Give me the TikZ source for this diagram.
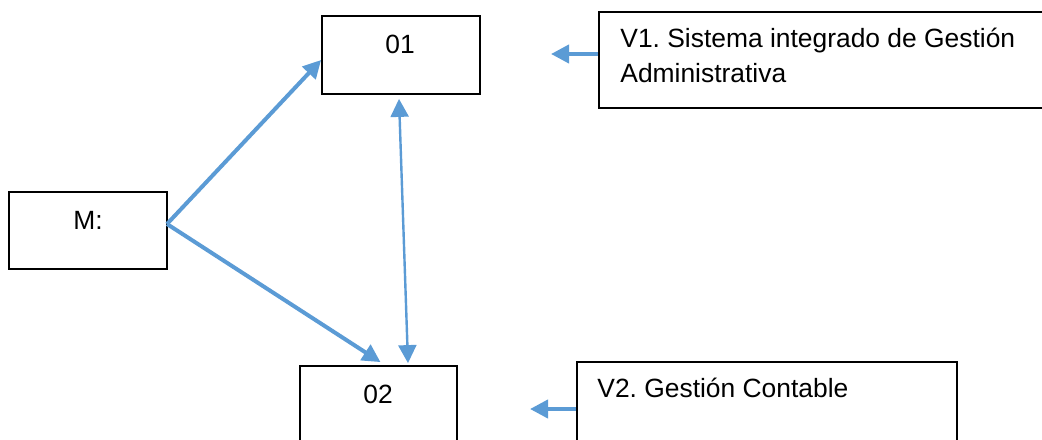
\documentclass[tikz,border=0pt]{standalone}
\usepackage{fontspec}
\setmainfont{Liberation Sans}
\usetikzlibrary{arrows.meta}
\definecolor{wblue}{HTML}{5B9BD5}
\frenchspacing
\begin{document}
\begin{tikzpicture}[x=0.5pt,y=-0.5pt,
  box/.style={draw=black, line width=0.9pt, inner sep=0pt, minimum width=#1},
  txt/.style={inner sep=0pt, font=\fontsize{13.2}{17.5}\selectfont},
  conn/.style={draw=wblue, line width=2pt, -{Triangle[length=9pt,width=9pt]}},
  dconn/.style={draw=wblue, line width=1.2pt, {Triangle[length=9pt,width=9pt]}-{Triangle[length=9pt,width=9pt]}}]
\useasboundingbox (0,0) rectangle (1042,439);
\clip (0,0) rectangle (1042,439);
\node[box=79pt, minimum height=39pt] (o1) at (401,55) {};
\node[box=240.5pt, minimum height=48pt] (v1) at (839.5,60) {};
\node[box=79pt, minimum height=38.5pt] (m) at (88,230.5) {};
\node[box=78.5pt, minimum height=47pt] (o2) at (378.5,413) {};
\node[box=190pt, minimum height=49pt] (v2) at (767,411) {};
\node[txt] (to1) at (400,44) {01};
\node[txt] (tm) at (88,220) {M:};
\node[txt] (to2) at (378,394) {02};
\node[txt, anchor=west, align=left] (tv1) at (620,55) {V1. Sistema integrado de Gestión\\Administrativa};
\node[txt, anchor=west] (tv2) at (597,388) {V2. Gestión Contable};
\coordinate (ms) at (167,224);
\coordinate (t1) at (551,54);
\coordinate (t2) at (530,409);
\draw[conn] (ms) -- ([yshift=-2.5pt]o1.west);
\draw[conn] (ms) -- ([shift={(1pt,1.5pt)}]o2.north);
\draw[dconn] ([shift={(-1pt,-2pt)}]o1.south) -- ([shift={(14.75pt,1pt)}]o2.north);
\draw[conn] (v1.west |- t1) -- (t1);
\draw[conn] (v2.west |- t2) -- (t2);
\end{tikzpicture}
\end{document}
